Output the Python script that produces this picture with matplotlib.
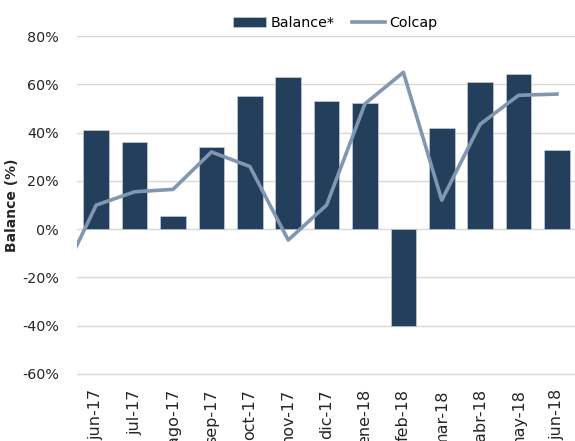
import matplotlib
matplotlib.use("Agg")
import matplotlib.pyplot as plt
import numpy as np

categories = ["jun-17", "jul-17", "ago-17", "sep-17", "oct-17", "nov-17", "dic-17",
              "ene-18", "feb-18", "mar-18", "abr-18", "may-18", "jun-18"]
balance = [41, 36, 5.5, 34, 55, 63, 53, 52.5, -40, 42, 61, 64.5, 33]
# Colcap: previous month (may-17, off the left edge) followed by the 13 months
colcap_prev = -23
colcap = [10, 15.5, 16.5, 32, 26, -4.5, 10, 52, 65, 12, 43.5, 55.5, 56]
yticks = [-60, -40, -20, 0, 20, 40, 60, 80]

plt.rcParams['font.family'] = ['DejaVu Sans']

fig = plt.figure(figsize=(5.75, 4.41), dpi=100)
ax = fig.add_axes([0.134, 0.152, 0.868, 0.766])

x = np.arange(len(categories))
bar_color = "#243F5C"
line_color = "#8097B1"
text_color = "#262626"

ax.set_axisbelow(True)
ax.yaxis.grid(True, color="#D9D9D9", linewidth=1.0)
bars = ax.bar(x, balance, width=0.67, color=bar_color, edgecolor="#D0D8E0", linewidth=0.4,
              label="Balance*", zorder=2)
xl = np.concatenate([[-1], x])
yl = [colcap_prev] + colcap
line, = ax.plot(xl, yl, color=line_color, linewidth=2.6, label="Colcap", zorder=3)

ax.set_xlim(-0.5, len(categories) - 0.5)
ax.set_ylim(-60, 80)
ax.set_yticks(yticks)
ax.set_yticklabels([f"{v}%" for v in yticks], fontsize=10.3, color=text_color)
ax.set_xticks(x)
ax.set_xticklabels(categories, rotation=90, fontsize=11.5, color=text_color, va="top")
ax.tick_params(axis="both", length=0)
ax.tick_params(axis="x", pad=11)
ax.tick_params(axis="y", pad=13)
for gl in ax.get_ygridlines():
    gl.set_clip_on(False)
for s in ax.spines.values():
    s.set_visible(False)

ax.set_ylabel("Balance (%)", fontsize=10, fontweight="bold", color=text_color, labelpad=2)

fig.legend([bars, line], ["Balance*", "Colcap"], loc="center", bbox_to_anchor=(0.583, 0.948),
           ncol=2, frameon=False, fontsize=10.3, handlelength=2.3, columnspacing=1.2,
           handletextpad=0.3)

fig.savefig("out.png", dpi=100)
